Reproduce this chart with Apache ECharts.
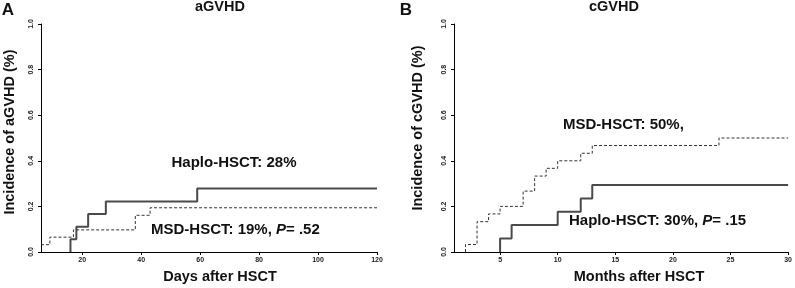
<!DOCTYPE html>
<html>
<head>
<meta charset="utf-8">
<script src="https://cdn.jsdelivr.net/npm/echarts@6/dist/echarts.min.js"></script>
<style>
  html, body { margin: 0; padding: 0; background: #fff; }
  #chart { width: 795px; height: 288px; }
</style>
</head>
<body>
<div id="chart"></div>
<script>
(function () {

    // panel A: aGVHD, days after HSCT
    var aHaploDays = [16, 16, 18, 22, 28, 59, 120];
    var aHaploInc  = [0, 0.056, 0.111, 0.167, 0.222, 0.278, 0.278];
    var aMsdDays   = [6, 9, 17, 38, 43, 120];
    var aMsdInc    = [0.032, 0.065, 0.097, 0.161, 0.194, 0.194];
    var aTicks     = [20, 40, 60, 80, 100, 120];

    // panel B: cGVHD, months after HSCT
    var bHaploMonths = [5, 5, 6, 10, 12, 13, 30];
    var bHaploInc    = [0, 0.059, 0.118, 0.176, 0.235, 0.294, 0.294];
    var bMsdMonths   = [2, 2, 3, 4, 5, 7, 8, 9, 10, 12, 13, 24, 30];
    var bMsdInc      = [0, 0.033, 0.133, 0.167, 0.2, 0.267, 0.333, 0.367, 0.4, 0.433, 0.467, 0.5, 0.5];
    var bTicks       = [5, 10, 15, 20, 25, 30];

    var FONT = 'Liberation Sans, Arial, sans-serif';

    function pairs(xs, ys) {
        return xs.map(function (x, i) { return [x, ys[i]]; });
    }

    function xAxis(idx, min, max, ticks) {
        return {
            type: 'value', gridIndex: idx, min: min, max: max,
            axisLine: { onZero: false, lineStyle: { color: '#000', width: 1 } },
            axisTick: { length: 3, customValues: ticks, lineStyle: { color: '#000' } },
            axisLabel: { customValues: ticks, margin: 5, fontSize: 7, fontWeight: 'bold',
                         color: '#222', fontFamily: FONT },
            splitLine: { show: false }
        };
    }

    function yAxis(idx) {
        return {
            type: 'value', gridIndex: idx, min: 0, max: 1, interval: 0.2,
            axisLine: { show: true, lineStyle: { color: '#000', width: 1 } },
            axisTick: { show: true, length: 3, lineStyle: { color: '#000' } },
            axisLabel: { rotate: 90, margin: 6, fontSize: 7, fontWeight: 'bold', color: '#222',
                         fontFamily: FONT,
                         formatter: function (v) { return v.toFixed(1); } },
            splitLine: { show: false }
        };
    }

    function solid(idx, data) {
        return { type: 'line', xAxisIndex: idx, yAxisIndex: idx, step: 'end', symbol: 'none',
                 lineStyle: { color: '#4a4a4a', width: 2 }, data: data, animation: false };
    }

    function dashed(idx, data) {
        return { type: 'line', xAxisIndex: idx, yAxisIndex: idx, step: 'end', symbol: 'none',
                 lineStyle: { color: '#333', width: 1, type: [3, 2] }, data: data, animation: false };
    }

    function label(x, y, txt, size) {
        return { type: 'text', style: { text: txt, x: x, y: y, fill: '#111',
                 font: 'bold ' + size + 'px ' + FONT, align: 'center', verticalAlign: 'middle' } };
    }

    function yName(x, y, txt) {
        return { type: 'text', x: x, y: y, rotation: Math.PI / 2,
                 style: { text: txt, fill: '#111', font: 'bold 14.5px ' + FONT,
                          align: 'center', verticalAlign: 'middle' } };
    }

    var rich = {
        n: { fontFamily: FONT, fontWeight: 'bold', fontSize: 15, fill: '#111', color: '#111' },
        i: { fontFamily: FONT, fontWeight: 'bold', fontStyle: 'italic', fontSize: 15, fill: '#111', color: '#111' }
    };

    var chart = echarts.init(document.getElementById('chart'), null, { renderer: 'canvas' });

    chart.setOption({
        backgroundColor: '#fff',
        grid: [
            { left: 41, right: 418, top: 24, bottom: 36 },
            { left: 454, right: 5, top: 24, bottom: 36 }
        ],
        xAxis: [xAxis(0, 6, 120, aTicks), xAxis(1, 1, 30, bTicks)],
        yAxis: [yAxis(0), yAxis(1)],
        series: [
            solid(0, pairs(aHaploDays, aHaploInc)),
            dashed(0, pairs(aMsdDays, aMsdInc)),
            solid(1, pairs(bHaploMonths, bHaploInc)),
            dashed(1, pairs(bMsdMonths, bMsdInc))
        ],
        graphic: [
            label(8, 10, 'A', 17),
            label(406, 10, 'B', 17),
            label(220, 7, 'aGVHD', 14.5),
            label(614, 7, 'cGVHD', 14.5),
            label(220, 277, 'Days after HSCT', 14.5),
            label(639, 277, 'Months after HSCT', 14.5),
            yName(10, 132, 'Incidence of aGVHD (%)'),
            yName(418, 128, 'Incidence of cGVHD (%)'),
            label(234, 163, 'Haplo-HSCT: 28%', 15),
            { type: 'text', style: { x: 151, y: 230, align: 'left', verticalAlign: 'middle',
              text: '{n|MSD-HSCT: 19%, }{i|P}{n|= .52}', rich: rich } },
            { type: 'text', style: { x: 563, y: 125, align: 'left', verticalAlign: 'middle',
              text: '{n|MSD-HSCT: 50%,}', rich: rich } },
            { type: 'text', style: { x: 569, y: 221, align: 'left', verticalAlign: 'middle',
              text: '{n|Haplo-HSCT: 30%, }{i|P}{n|= .15}', rich: rich } }
        ]
    });

})();
</script>
</body>
</html>
